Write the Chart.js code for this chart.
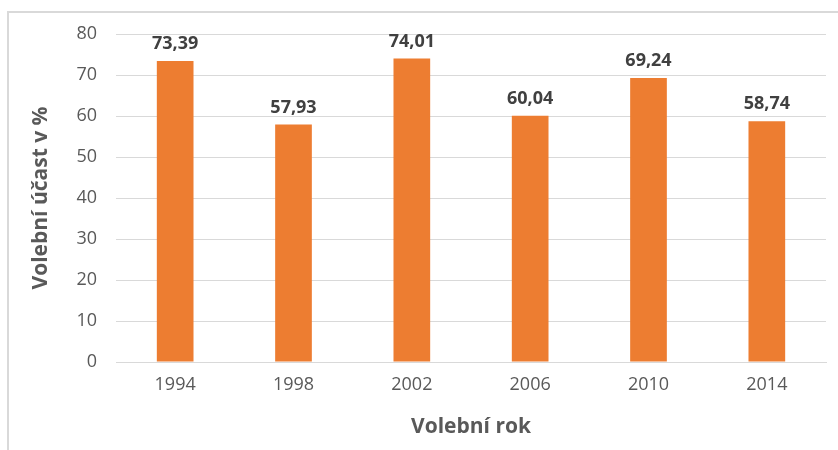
<!DOCTYPE html>
<html>
<head>
<meta charset="utf-8">
<script src="https://cdn.jsdelivr.net/npm/chart.js@4/dist/chart.umd.min.js"></script>
<style>
  html, body { margin: 0; padding: 0; background: #fff; }
  #wrap { position: relative; width: 838px; height: 450px; }
  #frame { position: absolute; left: 7px; top: 11px; right: 0; bottom: 0;
           border-top: 2px solid #d9d9d9; border-left: 2px solid #d9d9d9; }
  canvas { position: absolute; left: 0; top: 0; }
</style>
</head>
<body>
<div id="wrap">
  <div id="frame"></div>
  <canvas id="myChart" width="838" height="450"></canvas>
</div>
<script>
// data
const roky = ['1994', '1998', '2002', '2006', '2010', '2014'];
const ucast = [73.39, 57.93, 74.01, 60.04, 69.24, 58.74];
const yTicks = [0, 10, 20, 30, 40, 50, 60, 70, 80];

const fontFam = '"Open Sans", "DejaVu Sans", sans-serif';

// popisky nad sloupci
const popisky = {
    id: 'popisky',
    afterDatasetsDraw(chart) {
        const ctx = chart.ctx;
        const meta = chart.getDatasetMeta(0);
        ctx.save();
        ctx.font = 'bold 18px ' + fontFam;
        ctx.fillStyle = '#404040';
        ctx.textAlign = 'center';
        ctx.textBaseline = 'bottom';
        meta.data.forEach((bar, i) => {
            const txt = ucast[i].toFixed(2).replace('.', ',');
            ctx.fillText(txt, bar.x, bar.y - 8);
        });
        ctx.restore();
    }
};

const ctx = document.getElementById('myChart').getContext('2d');
const myChart = new Chart(ctx, {
    type: 'bar',
    data: {
        labels: roky,
        datasets: [{
            data: ucast,
            backgroundColor: '#ED7D31',
            borderWidth: 0,
            barPercentage: 0.31,
            categoryPercentage: 1
        }]
    },
    options: {
        responsive: false,
        animation: false,
        layout: { padding: { left: 24, top: 34, right: 12, bottom: 6 } },
        plugins: { legend: { display: false }, tooltip: { enabled: false } },
        scales: {
            x: {
                grid: { display: false, drawTicks: false },
                border: { display: true, color: '#d9d9d9', width: 1 },
                ticks: { color: '#595959', font: { family: fontFam, size: 18 }, padding: 12 },
                title: { display: true, text: 'Volební rok', color: '#595959',
                         font: { family: fontFam, size: 21, weight: 'bold' }, padding: { top: 14 } },
                afterFit: function(scale) { scale.height = 450 - 362 - 6; }
            },
            y: {
                min: 0, max: 80,
                afterBuildTicks: function(scale) { scale.ticks = yTicks.map(v => ({ value: v })); },
                grid: { color: '#d9d9d9', drawTicks: false },
                border: { display: false },
                ticks: { color: '#595959', font: { family: fontFam, size: 18 }, padding: 19 },
                title: { display: true, text: 'Volební účast v %', color: '#595959',
                         font: { family: fontFam, size: 21, weight: 'bold' } },
                afterFit: function(scale) { scale.width = 116 - 24; }
            }
        }
    },
    plugins: [popisky]
});
</script>
</body>
</html>
